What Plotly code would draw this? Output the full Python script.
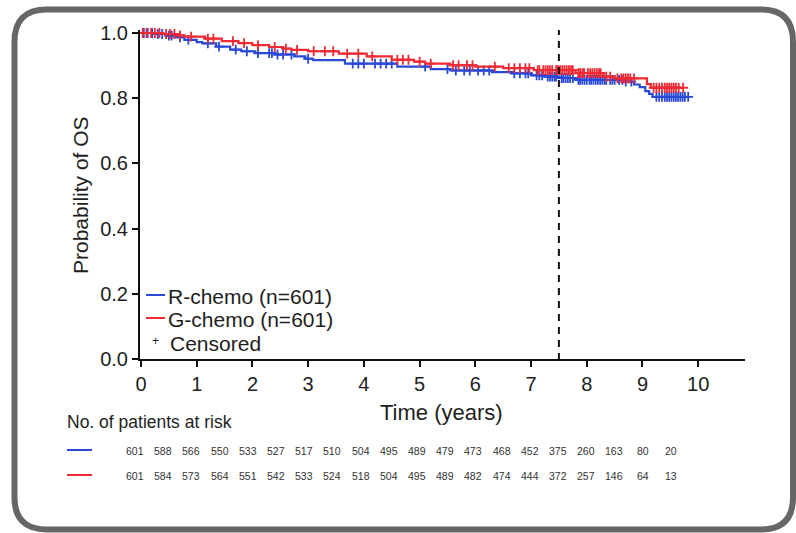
import numpy as np
import plotly.graph_objects as go

# ---- Kaplan-Meier estimates (time in years, probability of OS) ----
r_time = [0.0, 0.25, 0.45, 0.6, 0.78, 1.0, 1.1, 1.35, 1.6, 1.8, 2.05, 2.4, 2.75, 2.95,
          3.09, 3.66, 4.6, 5.2, 5.55, 6.3, 6.66, 7.0, 7.25, 7.5, 7.8, 8.65, 8.85, 8.95,
          9.05, 9.12, 9.18]
r_surv = [1.0, 0.997, 0.992, 0.987, 0.979, 0.972, 0.968, 0.958, 0.949, 0.944, 0.938, 0.934,
          0.928, 0.921, 0.917, 0.906, 0.897, 0.889, 0.885, 0.880, 0.876, 0.870, 0.866, 0.862,
          0.856, 0.851, 0.842, 0.834, 0.822, 0.813, 0.804]
r_last = 9.82

g_time = [0.0, 0.4, 0.65, 0.78, 1.15, 1.45, 1.75, 2.0, 2.3, 2.55, 2.7, 3.0, 3.55, 4.05,
          4.5, 4.9, 5.1, 5.55, 6.0, 6.5, 7.05, 7.8, 8.3, 8.5, 9.08, 9.15]
g_surv = [1.0, 0.997, 0.993, 0.989, 0.983, 0.975, 0.969, 0.963, 0.957, 0.952, 0.948, 0.944,
          0.937, 0.928, 0.918, 0.912, 0.906, 0.901, 0.897, 0.892, 0.886, 0.877, 0.866, 0.861,
          0.843, 0.832]
g_last = 9.73

# censoring times
r_censor = [0.05, 0.12, 0.2, 0.3, 0.38, 0.5, 0.55, 0.7, 0.85, 1.2, 1.4, 1.7, 1.9, 2.1, 2.3,
            2.35, 2.45, 2.55, 2.7, 3.0, 3.8, 3.9, 4.0, 4.2, 4.3, 4.4, 4.5, 5.1, 5.5, 5.65, 5.8,
            5.9, 6.05, 6.15, 6.25, 6.7, 6.8, 6.9, 6.95, 7.1, 7.15, 7.2, 7.3, 7.34, 7.38, 7.42,
            7.45, 7.55, 7.58, 7.62, 7.66, 7.7, 7.75, 7.85, 7.88, 7.92, 7.96, 8.0, 8.05, 8.08,
            8.12, 8.16, 8.2, 8.24, 8.28, 8.32, 8.35, 8.42, 8.46, 8.5, 8.58, 8.64, 8.7, 8.8,
            9.25, 9.3, 9.35, 9.4, 9.44, 9.48, 9.52, 9.56, 9.6, 9.64, 9.68, 9.72, 9.76, 9.82]
g_censor = [0.03, 0.1, 0.18, 0.25, 0.33, 0.45, 0.52, 0.6, 0.7, 0.9, 1.2, 1.3, 1.65, 1.85,
            2.1, 2.4, 2.6, 2.8, 3.1, 3.3, 3.45, 3.7, 3.9, 4.15, 4.6, 4.7, 4.8, 5.0, 5.2, 5.6,
            5.7, 5.85, 5.95, 6.35, 6.6, 6.7, 6.8, 6.9, 6.97, 7.12, 7.15, 7.22, 7.26, 7.3,
            7.34, 7.38, 7.45, 7.48, 7.52, 7.56, 7.6, 7.64, 7.68, 7.72, 7.75, 7.85, 7.88,
            7.92, 7.95, 8.02, 8.06, 8.1, 8.14, 8.18, 8.22, 8.25, 8.35, 8.42, 8.55, 8.62,
            8.66, 8.7, 8.74, 8.78, 8.85, 9.2, 9.25, 9.3, 9.35, 9.4, 9.44, 9.48, 9.52, 9.56,
            9.6, 9.65, 9.73]

# number at risk every half year
risk_times = [0.5 * i for i in range(20)]
risk_r = [601, 588, 566, 550, 533, 527, 517, 510, 504, 495, 489, 479, 473, 468, 452, 375,
          260, 163, 80, 20]
risk_g = [601, 584, 573, 564, 551, 542, 533, 524, 518, 504, 495, 489, 482, 474, 444, 372,
          257, 146, 64, 13]

x_ticks = list(range(11))
y_ticks = [0.0, 0.2, 0.4, 0.6, 0.8, 1.0]

BLUE = "#2a49d6"
RED = "#ee2a34"
FONT = "Liberation Sans, Arial, sans-serif"
NARROW = "Liberation Sans Narrow, Arial Narrow, Liberation Sans, Arial, sans-serif"
TXT = "#1e1e1e"

W, H = 796, 533
L, R, T, B = 140, 51, 30, 174
PW, PH = W - L - R, H - T - B
XMIN = -0.018
XMAX = XMIN + PW / 55.72
YMAX = PH / 326.0


def px(xp):
    return (xp - L) / PW


def py(yp):
    return (H - B - yp) / PH


def step_at(times, surv, t):
    i = np.searchsorted(np.asarray(times), t, side="right") - 1
    return np.asarray(surv)[i]


fig = go.Figure()

for times, surv, last, cens, col in [(r_time, r_surv, r_last, r_censor, BLUE),
                                      (g_time, g_surv, g_last, g_censor, RED)]:
    fig.add_trace(go.Scatter(
        x=list(times) + [last], y=list(surv) + [surv[-1]],
        mode="lines", line=dict(color=col, width=2.2, shape="hv"),
        showlegend=False, hoverinfo="skip"))
    fig.add_trace(go.Scatter(
        x=cens, y=[step_at(times, surv, c) for c in cens],
        mode="markers",
        marker=dict(symbol="cross-thin", size=7, line=dict(color=col, width=1.8)),
        showlegend=False, hoverinfo="skip", cliponaxis=False))

shapes = []
# dashed reference line at 7.5 years
shapes.append(dict(type="line", xref="x", yref="paper", x0=7.5, x1=7.5,
                   y0=py(360), y1=py(30),
                   line=dict(color="#111111", width=2, dash="7px,6px")))

# in-plot legend line samples
shapes.append(dict(type="line", xref="paper", yref="paper", x0=px(146), x1=px(165),
                   y0=py(295), y1=py(295), line=dict(color=BLUE, width=2)))
shapes.append(dict(type="line", xref="paper", yref="paper", x0=px(146), x1=px(165),
                   y0=py(318), y1=py(318), line=dict(color=RED, width=2)))

# risk table line samples
shapes.append(dict(type="line", xref="paper", yref="paper", x0=px(67), x1=px(92),
                   y0=py(450), y1=py(450), line=dict(color=BLUE, width=2)))
shapes.append(dict(type="line", xref="paper", yref="paper", x0=px(67), x1=px(92),
                   y0=py(475), y1=py(475), line=dict(color=RED, width=2)))

# rounded outer frame
fl, ft, fr, fb, rad = 14.5, 9.5, 793, 529.5, 32
pts = [("M", fl + rad, ft), ("L", fr - rad, ft), ("Q", fr, ft, fr, ft + rad),
       ("L", fr, fb - rad), ("Q", fr, fb, fr - rad, fb), ("L", fl + rad, fb),
       ("Q", fl, fb, fl, fb - rad), ("L", fl, ft + rad), ("Q", fl, ft, fl + rad, ft)]
path = ""
for p in pts:
    cmd, coords = p[0], p[1:]
    pairs = [f"{px(coords[k]):.5f},{py(coords[k + 1]):.5f}" for k in range(0, len(coords), 2)]
    path += cmd + " ".join(pairs) + " "
path += "Z"
shapes.append(dict(type="path", xref="paper", yref="paper", path=path,
                   line=dict(color="#666666", width=6), fillcolor="rgba(0,0,0,0)"))

ann = []
# axis titles
ann.append(dict(text="Time (years)", xref="paper", yref="paper", x=px(441), y=py(412),
                showarrow=False, font=dict(family=FONT, size=22, color=TXT),
                xanchor="center", yanchor="middle"))
ann.append(dict(text="Probability of OS", xref="paper", yref="paper", x=px(80), y=py(195),
                showarrow=False, textangle=-90, font=dict(family=FONT, size=21, color=TXT),
                xanchor="center", yanchor="middle"))
# legend texts
ann.append(dict(text="R-chemo (n=601)", xref="paper", yref="paper", x=px(166), y=py(296),
                showarrow=False, font=dict(family=FONT, size=21, color=TXT),
                xanchor="left", yanchor="middle"))
ann.append(dict(text="G-chemo (n=601)", xref="paper", yref="paper", x=px(166), y=py(319),
                showarrow=False, font=dict(family=FONT, size=21, color=TXT),
                xanchor="left", yanchor="middle"))
ann.append(dict(text="+", xref="paper", yref="paper", x=px(155), y=py(341),
                showarrow=False, font=dict(family=FONT, size=12, color=TXT),
                xanchor="center", yanchor="middle"))
ann.append(dict(text="Censored", xref="paper", yref="paper", x=px(168), y=py(343),
                showarrow=False, font=dict(family=FONT, size=21, color=TXT),
                xanchor="left", yanchor="middle"))
# risk table
ann.append(dict(text="No. of patients at risk", xref="paper", yref="paper", x=px(65),
                y=py(422), showarrow=False, font=dict(family=FONT, size=17.5, color=TXT),
                xanchor="left", yanchor="middle"))
for i, (t, nr, ng) in enumerate(zip(risk_times, risk_r, risk_g)):
    xc = px(135 + t / 0.5 * 28.2)
    for val, yy in [(nr, 451), (ng, 476)]:
        ann.append(dict(text=str(val), xref="paper", yref="paper", x=xc, y=py(yy),
                        showarrow=False, font=dict(family=NARROW, size=10.5, color="#333333"),
                        xanchor="center", yanchor="middle"))

axis_common = dict(showline=True, linecolor="#111111", linewidth=2, ticks="outside",
                   ticklen=6, tickwidth=2, tickcolor="#111111", showgrid=False,
                   zeroline=False, tickfont=dict(family=FONT, size=20, color=TXT))

fig.update_layout(
    width=W, height=H,
    margin=dict(l=L, r=R, t=T, b=B),
    paper_bgcolor="white", plot_bgcolor="white",
    xaxis=dict(range=[XMIN, XMAX], tickvals=x_ticks, ticktext=[str(v) for v in x_ticks],
               **axis_common),
    yaxis=dict(range=[0, YMAX], tickvals=y_ticks, ticktext=[f"{v:.1f}" for v in y_ticks],
               **axis_common),
    shapes=shapes, annotations=ann, showlegend=False,
)

fig.write_html("out.html")
